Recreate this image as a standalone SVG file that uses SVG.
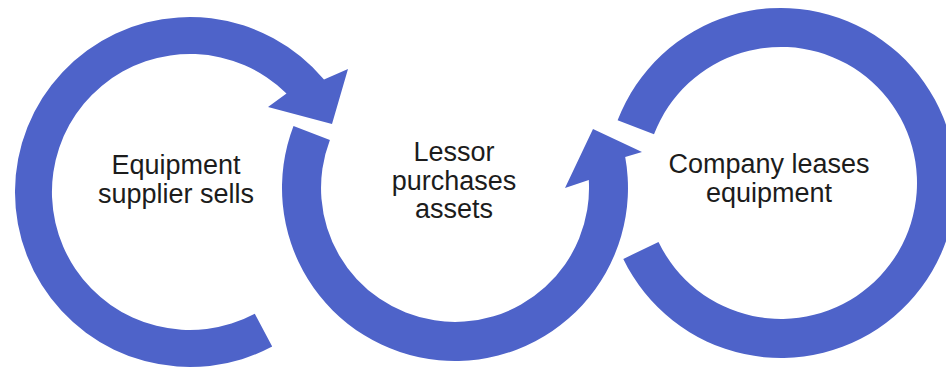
<svg xmlns="http://www.w3.org/2000/svg" width="946" height="370" viewBox="0 0 946 370">
  <style>
    .ring { fill: #4e63c9; stroke: none; }
    .lbl { font-family: "Liberation Sans", Arial, sans-serif; font-size: 27px; fill: #1c1c1c; text-anchor: middle; }
  </style>
  <rect x="0" y="0" width="946" height="370" fill="#ffffff"/>
  <g id="connectors">
    <path id="arc-supplier" class="ring" d="M 254.8,313.8 L 272.2,346.5 A 175 175 0 1 1 324,79.5 L 348,69 L 332,124 L 268,107 L 286.5,93.4 A 138 138 0 1 0 254.8,313.8 Z"/>
    <path id="arc-lessor" class="ring" d="M 293.5,126 A 173 173 0 1 0 625.2,157.1 L 642,152 L 593,129 L 565,188 L 588.8,180.1 A 134 134 0 1 1 329.9,140 Z"/>
    <path id="arc-company" class="ring" d="M 617.6,120.3 A 175 175 0 1 1 623.3,258.9 L 658.5,242 A 136 136 0 1 0 654,134.3 Z"/>
  </g>
  <g id="node-supplier">
    <text class="lbl" x="176" y="174">Equipment</text>
    <text class="lbl" x="176" y="203">supplier sells</text>
  </g>
  <g id="node-lessor">
    <text class="lbl" x="454" y="161">Lessor</text>
    <text class="lbl" x="454" y="190">purchases</text>
    <text class="lbl" x="454" y="218">assets</text>
  </g>
  <g id="node-company">
    <text class="lbl" x="769" y="173">Company leases</text>
    <text class="lbl" x="769" y="202">equipment</text>
  </g>
</svg>
